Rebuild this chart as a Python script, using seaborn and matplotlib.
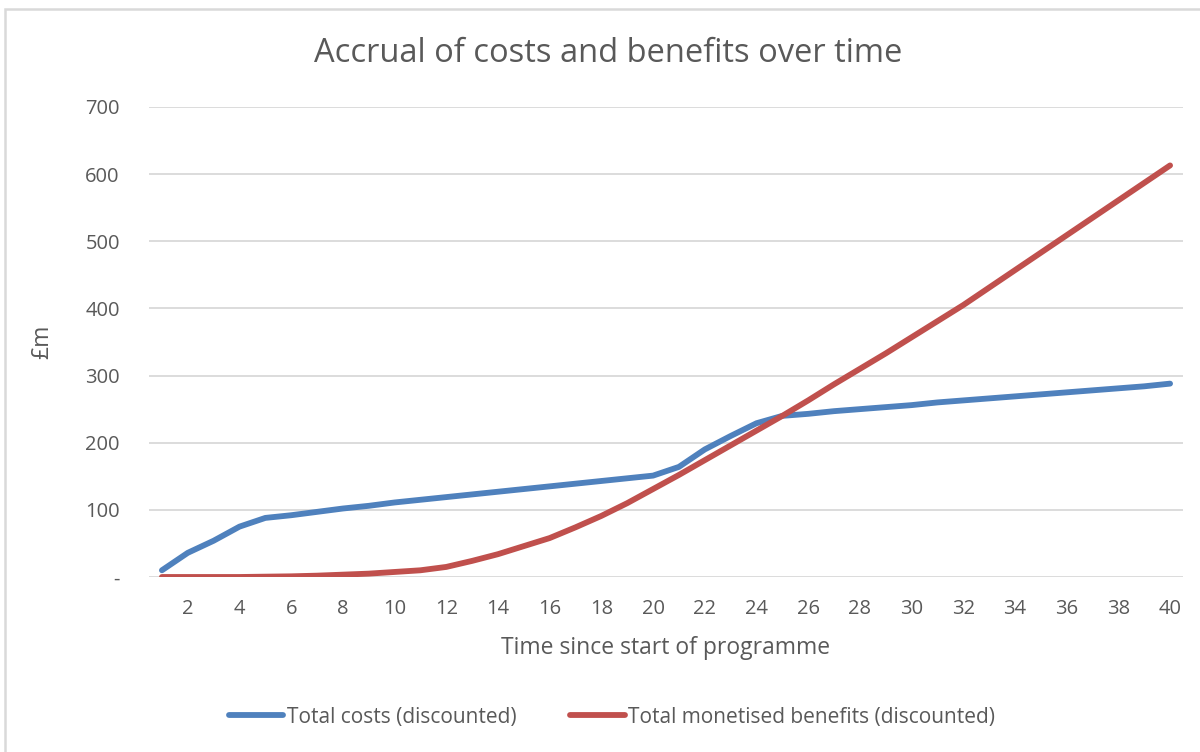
import matplotlib
matplotlib.use("Agg")
import matplotlib.pyplot as plt
from matplotlib.patches import Rectangle
import seaborn as sns
import pandas as pd

# Years since the programme began
years = list(range(1, 41))

# Cumulative discounted totals, £m
total_costs = [10, 36, 54, 75, 88, 92, 97, 102, 106, 111,
               115, 119, 123, 127, 131, 135, 139, 143, 147, 151,
               164, 190, 210, 229, 240, 243, 247, 250, 253, 256,
               260, 263, 266, 269, 272, 275, 278, 281, 284, 288]
total_benefits = [0, 0, 0, 0, 0.5, 1, 2, 3.5, 5, 7.5,
                  10, 15, 24, 34, 46, 58, 74, 91, 110, 131,
                  152, 174, 196, 218, 240, 263, 287, 310, 333, 357,
                  381, 405, 431, 457, 483, 509, 535, 561, 587, 613]

series_names = ["Total costs (discounted)",
                "Total monetised benefits (discounted)"]
series_colors = ["#4f81bd", "#c0504d"]

y_ticks = [0, 100, 200, 300, 400, 500, 600, 700]
y_tick_labels = ["-", "100", "200", "300", "400", "500", "600", "700"]
x_ticks = list(range(2, 41, 2))

df = pd.DataFrame({
    "year": years * 2,
    "value": total_costs + total_benefits,
    "series": [series_names[0]] * len(years) + [series_names[1]] * len(years),
})

sns.set_theme(style="white")
plt.rcParams["font.family"] = ["Open Sans", "DejaVu Sans"]
text_color = "#595959"
grid_color = "#d9d9d9"
line_w = 4.2

fig = plt.figure(figsize=(12, 7.52), dpi=100)
ax = fig.add_axes([149 / 1200, 1 - 577 / 752, (1183 - 149) / 1200, (577 - 107) / 752])

sns.lineplot(data=df, x="year", y="value", hue="series",
             palette=dict(zip(series_names, series_colors)),
             linewidth=line_w, ax=ax, legend=False,
             solid_capstyle="round", solid_joinstyle="round")

ax.set_xlim(0.5, 40.5)
ax.set_ylim(0, 700)
ax.set_yticks(y_ticks)
ax.set_yticklabels(y_tick_labels)
ax.set_xticks(x_ticks)
ax.set_xticklabels([str(t) for t in x_ticks])
ax.tick_params(axis="both", length=0, labelsize=14.5, colors=text_color)
ax.tick_params(axis="y", pad=21)
ax.tick_params(axis="x", pad=16)

ax.grid(axis="y", color=grid_color, linewidth=1.3)
ax.set_axisbelow(True)
for s in ax.spines.values():
    s.set_visible(False)

ax.set_xlabel("Time since start of programme", fontsize=16.5, color=text_color, labelpad=12)
ax.set_ylabel("£m", fontsize=16.5, color=text_color, labelpad=22)

fig.text(0.507, 1 - 54 / 752, "Accrual of costs and benefits over time",
         ha="center", va="center", fontsize=23.5, color=text_color)

handles = [plt.Line2D([], [], color=c, linewidth=line_w, solid_capstyle="round")
           for c in series_colors]
fig.legend(handles, series_names, loc="center", ncol=2,
           bbox_to_anchor=(0.51, 1 - 717 / 752), frameon=False,
           fontsize=15, labelcolor=text_color, handlelength=2.6,
           handletextpad=0.15, columnspacing=2.6)

# Chart frame
fig.patches.append(Rectangle((5 / 1200, -0.05), 1.2, 1 - 9 / 752 + 0.05,
                             transform=fig.transFigure, fill=False,
                             edgecolor=grid_color, linewidth=1.8))

fig.savefig("out.png", dpi=100, facecolor="white")
